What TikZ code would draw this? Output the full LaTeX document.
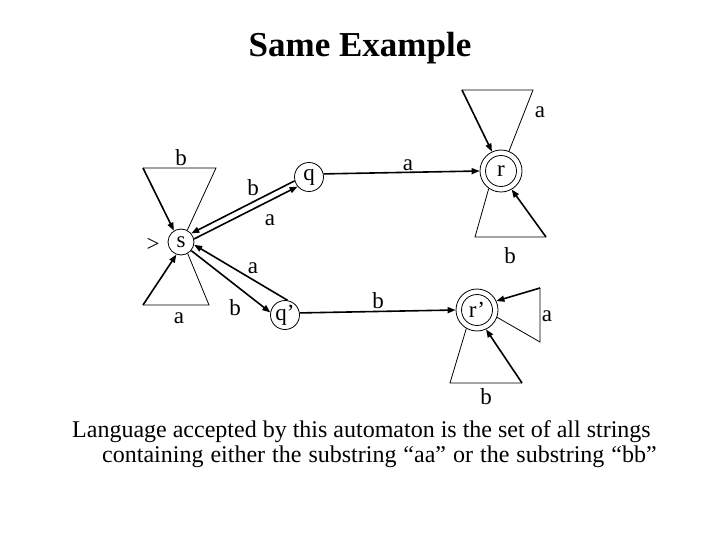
\documentclass[tikz,border=0pt]{standalone}
\usepackage{fontspec}
\setmainfont{Liberation Serif}
\usetikzlibrary{arrows.meta}
\begin{document}
\begin{tikzpicture}[x=1pt,y=-1pt,
  state/.style={circle,draw,line width=0.8pt,inner sep=0pt,font=\fontsize{23}{26}\selectfont},
  lbl/.style={inner sep=0pt,font=\fontsize{23}{26}\selectfont},
  arr/.style={line width=1.6pt,-{Triangle[length=8pt,width=6pt]}},
  thinline/.style={line width=0.8pt},
  body/.style={inner sep=0pt,anchor=base west,font=\fontsize{24}{28}\selectfont}]
\useasboundingbox[fill=white] (0,0) rectangle (720,540);
% title
\node[inner sep=0pt,anchor=base,font=\fontsize{35}{40}\selectfont\bfseries] (title) at (360,57) {Same Example};
% states
\node[state,minimum size=26pt] (s) at (181,242) {s};
\node[state,minimum size=29pt] (q) at (309,177) {q};
\node[state,minimum size=29pt] (qq) at (285,315) {q’};
\node[state,minimum size=42pt] (r) at (501,171) {r};
\node[state,minimum size=42pt] (rr) at (477,310) {r’};
\draw[thinline] (r.center) circle[radius=15.5pt];
\draw[thinline] (rr.center) circle[radius=15.5pt];
% start marker
\node[lbl] (start) at (153,245) {>};
% edges between states
\draw[arr] (q.195) -- (s.40);
\draw[arr] (s.13) -- (q.220);
\draw[arr] (s.-40) -- (qq.170);
\draw[arr] (qq.80) -- (s.-12);
\draw[arr] (q.12) -- (r.west);
\draw[arr] (qq.8) -- (rr.west);
% loops on s
\coordinate (sTL) at (143,168); \coordinate (sTR) at (216,168);
\draw[thinline] (s.62) -- (sTR) -- (sTL);
\draw[arr] (sTL) -- (s.122);
\coordinate (sBL) at (143,305); \coordinate (sBR) at (209,305);
\draw[thinline] (s.-60) -- (sBR) -- (sBL);
\draw[arr] (sBL) -- (s.-110);
% loops on r
\coordinate (rTL) at (462,90); \coordinate (rTR) at (533,90);
\draw[thinline] (r.68) -- (rTR) -- (rTL);
\draw[arr] (rTL) -- (r.115);
\coordinate (rBL) at (475,237); \coordinate (rBR) at (546,237);
\draw[thinline] (r.-125) -- (rBL) -- (rBR);
\draw[arr] (rBR) -- (r.-60);
% loops on r'
\coordinate (pRT) at (540,288); \coordinate (pRB) at (540,342);
\draw[thinline] (rr.-20) -- (pRB) -- (pRT);
\draw[arr] (pRT) -- (rr.25);
\coordinate (pBL) at (450,383); \coordinate (pBR) at (522,383);
\draw[thinline] (rr.-120) -- (pBL) -- (pBR);
\draw[arr] (pBR) -- (rr.-65);
% labels
\node[lbl] (l1) at (253,188) {b};
\node[lbl] (l2) at (270,220) {a};
\node[lbl] (l3) at (253,268) {a};
\node[lbl] (l4) at (235,308) {b};
\node[lbl] (l5) at (408,165) {a};
\node[lbl] (l6) at (378,301) {b};
\node[lbl] (l7) at (181,158) {b};
\node[lbl] (l8) at (179,318) {a};
\node[lbl] (l9) at (540,112) {a};
\node[lbl] (l10) at (510,256) {b};
\node[lbl] (l11) at (547,316) {a};
\node[lbl] (l12) at (486,397) {b};
% body text
\node[body] (t1) at (72,437) {Language accepted by this automaton is the set of all strings};
\node[body] (t2) at (102,462) {\spaceskip=7pt plus 1pt containing either the substring “aa” or the substring “bb”};
\end{tikzpicture}
\end{document}
